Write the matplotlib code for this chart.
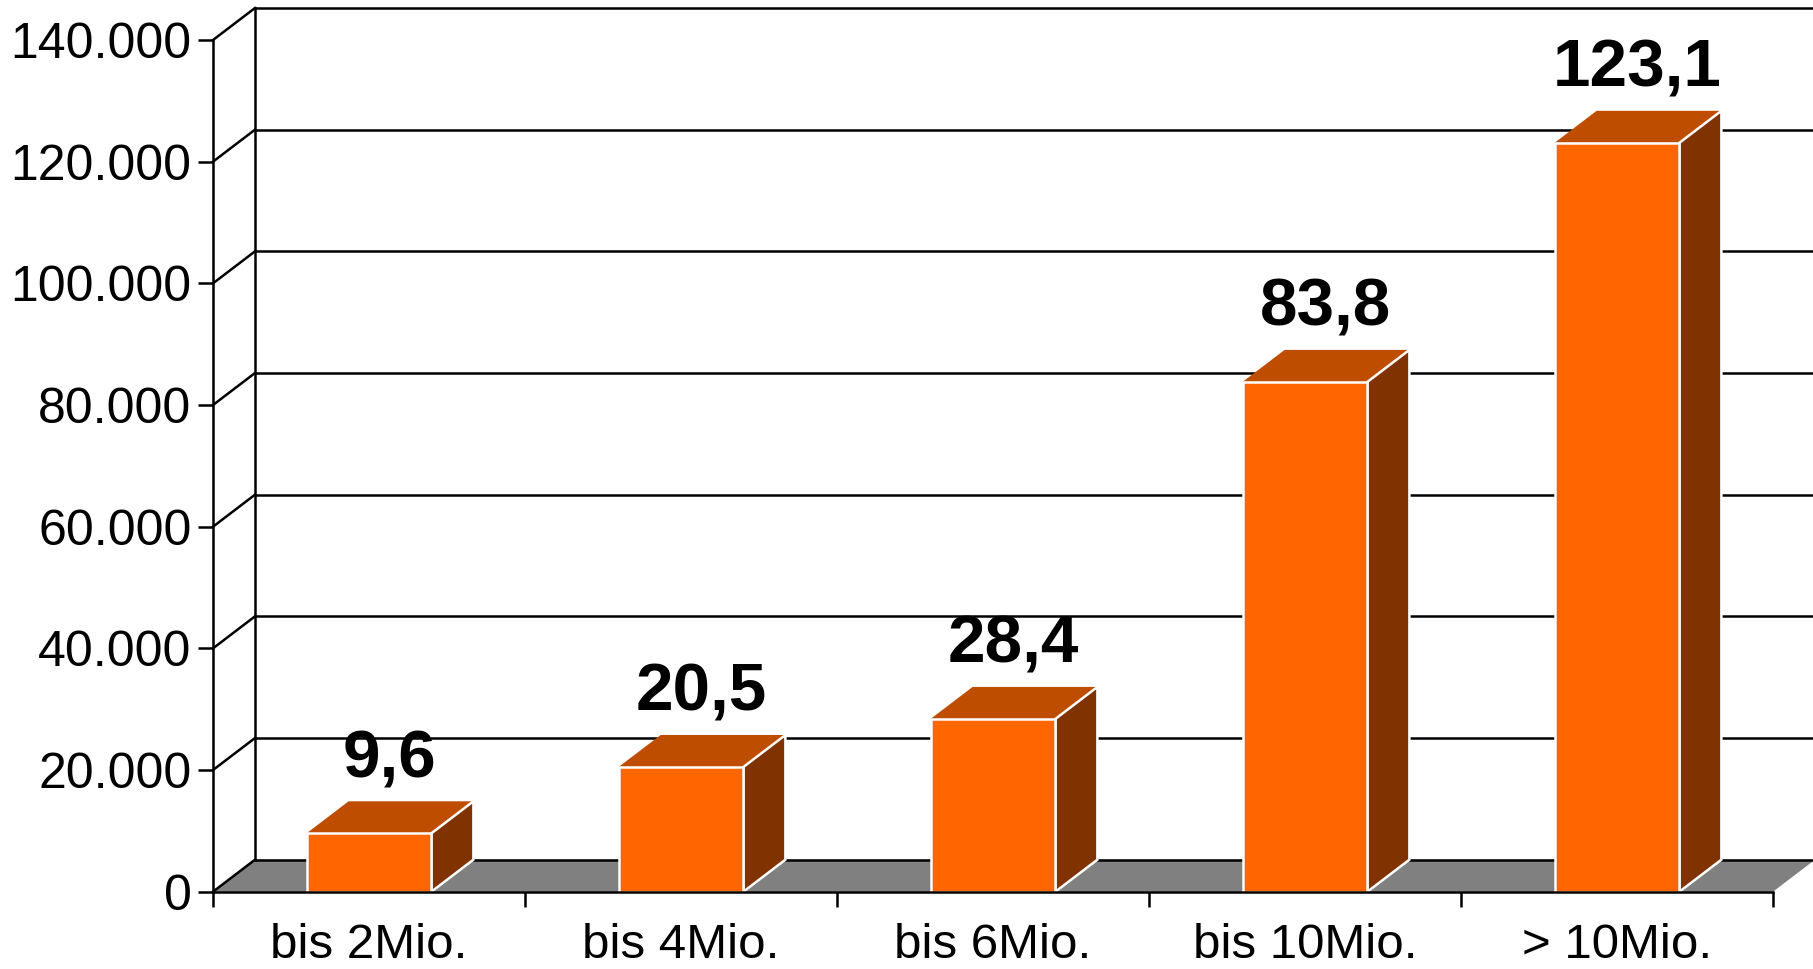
import matplotlib
matplotlib.use("Agg")
import matplotlib.pyplot as plt
from matplotlib.patches import Polygon

categories = ["bis 2Mio.", "bis 4Mio.", "bis 6Mio.", "bis 10Mio.", "> 10Mio."]
values = [9600, 20500, 28400, 83800, 123100]
value_labels = ["9,6", "20,5", "28,4", "83,8", "123,1"]
y_ticks = [0, 20000, 40000, 60000, 80000, 100000, 120000, 140000]
y_tick_labels = ["0", "20.000", "40.000", "60.000", "80.000", "100.000", "120.000", "140.000"]

W, H = 1813, 969
plt.rcParams["font.family"] = ["Liberation Sans", "DejaVu Sans"]
fig = plt.figure(figsize=(W / 100, H / 100), dpi=100, facecolor="white")
L, R, T, B = 213.0, 1773.0, 40.0, 891.7
ax = fig.add_axes([L / W, 1 - B / H, (R - L) / W, (B - T) / H])
n = len(categories)
ax.set_xlim(0, n)
ax.set_ylim(0, 140000)
ax.patch.set_visible(False)

px_x = n / (R - L)
px_y = 140000 / (B - T)
dx = 42 * px_x
dy = 32 * px_y
LW = 1.8

# floor
ax.add_patch(Polygon([(0, 0), (n, 0), (n + dx, dy), (dx, dy)], closed=True,
                     facecolor="#808080", edgecolor="none", zorder=1, clip_on=False))
# back wall grid lines, side wall diagonals
for t in y_ticks:
    ax.plot([dx, n + dx], [t + dy, t + dy], color="black", lw=LW, zorder=1.2, clip_on=False)
    ax.plot([0, dx], [t, t + dy], color="black", lw=LW, zorder=1.2, clip_on=False)
ax.plot([dx, dx], [dy, 140000 + dy], color="black", lw=LW, zorder=1.2, clip_on=False)

# bars
width = 0.4
xs = [i + 0.5 for i in range(n)]
for x, v, lab in zip(xs, values, value_labels):
    x0, x1 = x - width / 2, x + width / 2
    ax.add_patch(Polygon([(x0, v), (x1, v), (x1 + dx, v + dy), (x0 + dx, v + dy)], closed=True,
                         facecolor="#BF4D00", edgecolor="none", zorder=2, clip_on=False))
    ax.add_patch(Polygon([(x1, 0), (x1 + dx, dy), (x1 + dx, v + dy), (x1, v)], closed=True,
                         facecolor="#803300", edgecolor="white", lw=1.8, zorder=2, clip_on=False))
    ax.annotate(lab, xy=(x, v), xytext=(14.8, 40.5), textcoords="offset points",
                ha="center", va="baseline", fontsize=48.5, fontweight="bold", color="black",
                annotation_clip=False, zorder=3)
ax.bar(xs, values, width=width, color="#FF6600", edgecolor="white", linewidth=1.8, zorder=2.1, clip_on=False)

# axes furniture
for s in ("top", "right"):
    ax.spines[s].set_visible(False)
for s in ("left", "bottom"):
    ax.spines[s].set_linewidth(LW)
    ax.spines[s].set_zorder(4)
ax.set_yticks(y_ticks)
ax.set_yticklabels(y_tick_labels, fontsize=36)
ax.set_xticks(range(n + 1))
ax.set_xticklabels([])
ax.set_xticks(xs, minor=True)
ax.set_xticklabels(categories, minor=True, fontsize=35.5)
ax.tick_params(axis="y", which="major", length=10.5, width=LW, pad=5)
ax.tick_params(axis="x", which="major", length=11, width=LW)
ax.tick_params(axis="x", which="minor", length=0, pad=22.5)

fig.savefig("out.png", dpi=100, facecolor="white")
